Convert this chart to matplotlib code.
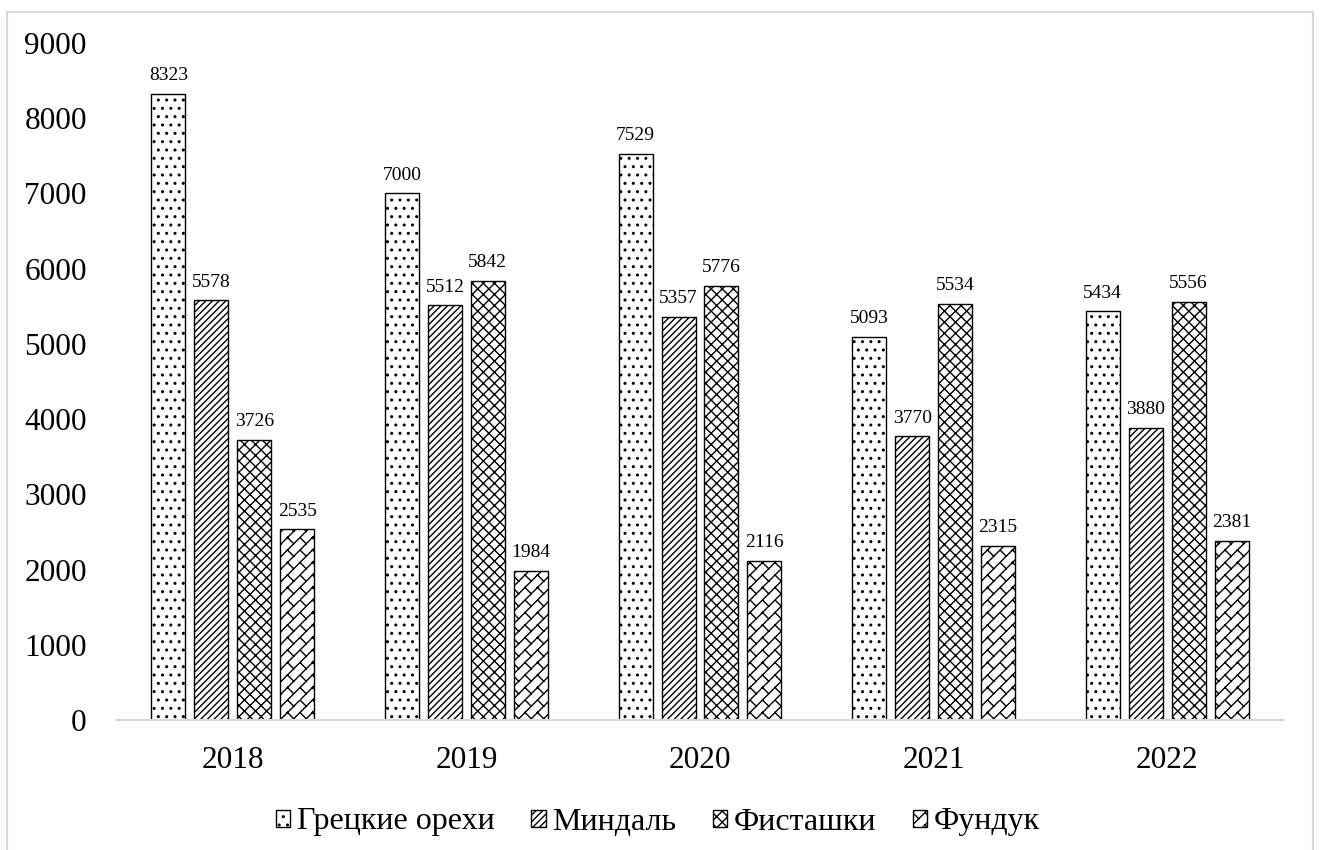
import warnings
import numpy as np
import matplotlib
matplotlib.use("Agg")
import matplotlib.pyplot as plt
from matplotlib import hatch as mhatch
from matplotlib.path import Path
from matplotlib.patches import Rectangle

warnings.filterwarnings("ignore")

years = ["2018", "2019", "2020", "2021", "2022"]
series_names = ["Грецкие орехи", "Миндаль", "Фисташки", "Фундук"]
walnuts = [8323, 7000, 7529, 5093, 5434]
almonds = [5578, 5512, 5357, 3770, 3880]
pistachios = [3726, 5842, 5776, 5534, 5556]
hazelnuts = [2535, 1984, 2116, 2315, 2381]
y_ticks = [0, 1000, 2000, 3000, 4000, 5000, 6000, 7000, 8000, 9000]


class DiagonalBrickHatch(mhatch.HatchPatternBase):
    """Diagonal brick pattern: '/' lines joined by staggered '\\' rungs."""

    def __init__(self, hatch, density):
        self.num_lines = int(hatch.count('z') * density * 1.35)
        self.num_vertices = 4 * self.num_lines ** 2 if self.num_lines else 0

    def set_vertices_and_codes(self, vertices, codes):
        n = self.num_lines
        s = 1.0 / n
        k = 0
        for i in range(n):
            for j in range(n):
                x0, y0 = i * s, j * s
                vertices[k:k + 4] = [(x0, y0), (x0 + s, y0 + s),
                                     (x0 + 0.5 * s, y0 + 0.5 * s), (x0, y0 + s)]
                codes[k:k + 4] = [Path.MOVETO, Path.LINETO, Path.MOVETO, Path.LINETO]
                k += 4


mhatch._hatch_types.append(DiagonalBrickHatch)

plt.rcParams['font.family'] = ['Liberation Serif', 'DejaVu Serif']
plt.rcParams['hatch.linewidth'] = 1.0
plt.rcParams['hatch.color'] = 'black'

fig = plt.figure(figsize=(13.19, 8.5), dpi=100)
ax = fig.add_axes([116 / 1319, 1 - 720 / 850, (1284 - 116) / 1319, (720 - 43) / 850])

# outer chart frame
fig.patches.append(Rectangle((7 / 1319, -0.01), (1313 - 7) / 1319, 1.01 - 12 / 850,
                             transform=fig.transFigure, fill=False,
                             edgecolor='#d9d9d9', linewidth=1.5))

data = [walnuts, almonds, pistachios, hazelnuts]
hatches = ['..', '/////', 'xxx', 'z']
x = np.arange(len(years))
width = 34 / 234
step = 43 / 234
offsets = (np.arange(4) - 1.5) * step

for vals, name, h, off in zip(data, series_names, hatches, offsets):
    bars = ax.bar(x + off, vals, width, label=name, color='white',
                  edgecolor='black', linewidth=1.0, hatch=h, zorder=3)
    for b, v in zip(bars, vals):
        ax.annotate(f"{v}", (b.get_x() + b.get_width() / 2, v),
                    xytext=(0, 7), textcoords='offset points',
                    ha='center', va='bottom', fontsize=14)

ax.set_xlim(-0.5, len(years) - 0.5)
ax.set_ylim(0, 9000)
ax.set_yticks(y_ticks)
ax.set_yticklabels([str(t) for t in y_ticks], fontsize=22.5)
ax.set_xticks(x)
ax.set_xticklabels(years, fontsize=22.5)
ax.tick_params(axis='y', length=0, pad=21)
ax.tick_params(axis='x', length=0, pad=19)

for side in ['top', 'right', 'left']:
    ax.spines[side].set_visible(False)
ax.spines['bottom'].set_color('#d9d9d9')
ax.spines['bottom'].set_linewidth(1.5)
ax.spines['bottom'].set_zorder(4)

fig.legend(loc='center', bbox_to_anchor=(658 / 1319, 1 - 822 / 850), ncol=4,
           frameon=False, fontsize=23, handlelength=0.45, handleheight=0.45,
           handletextpad=0.2, columnspacing=1.15)

fig.savefig('out.png', dpi=100)
